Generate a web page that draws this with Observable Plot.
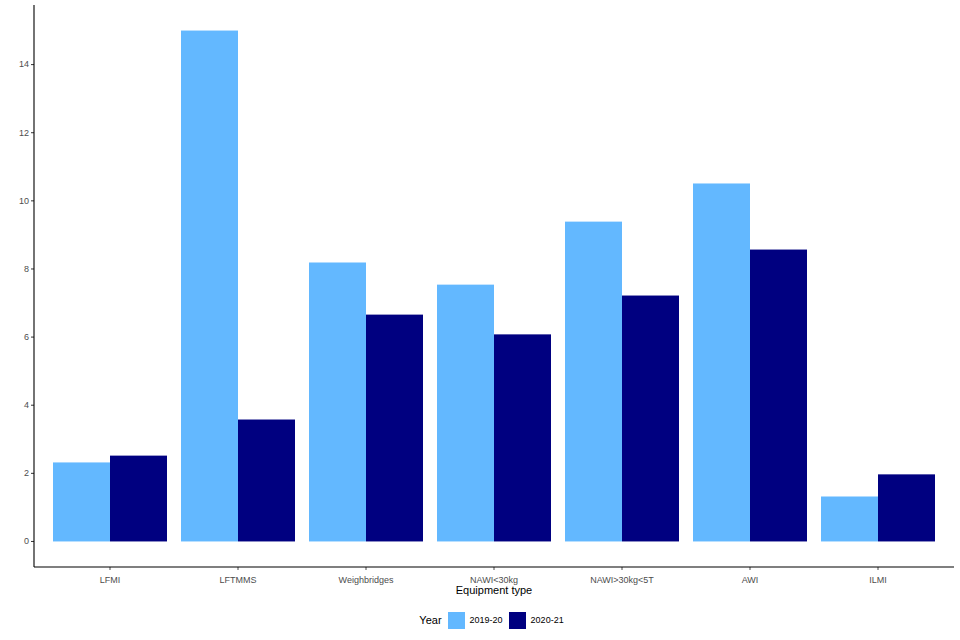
<!DOCTYPE html>
<html>
<head>
<meta charset="utf-8">
<script src="https://cdn.jsdelivr.net/npm/d3@7"></script>
<script src="https://cdn.jsdelivr.net/npm/@observablehq/plot@0.6"></script>
<style>
  html, body { margin: 0; padding: 0; background: white; }
  #chart { width: 960px; }
  .legend { height: 40px; display: flex; align-items: center; justify-content: center;
            font-family: "Liberation Sans", Arial, sans-serif; color: #000; padding-left: 29px; }
  .legend .title { font-size: 11px; margin-right: 6px; }
  .legend .sw { width: 17px; height: 17px; margin-right: 5px; }
  .legend .lab { font-size: 9px; margin-right: 6px; }
</style>
</head>
<body>
<div id="chart"></div>
<script>
const categories = ["LFMI", "LFTMMS", "Weighbridges", "NAWI<30kg", "NAWI>30kg<5T", "AWI", "ILMI"];
const years = ["2019-20", "2020-21"];
const values2019 = [2.32, 15.0, 8.19, 7.54, 9.39, 10.51, 1.32];
const values2020 = [2.52, 3.58, 6.66, 6.08, 7.22, 8.57, 1.97];
const yTicks = [0, 2, 4, 6, 8, 10, 12, 14];
const colors = ["#63B8FF", "#000080"];

const data = categories.flatMap((c, i) => [
  {category: c, year: years[0], value: values2019[i]},
  {category: c, year: years[1], value: values2020[i]}
]);

const W = 960, H = 600, mt = 5, mb = 33, ml = 34, mr = 6;
const font = "'Liberation Sans', Arial, sans-serif";

const plot = Plot.plot({
  width: W, height: H,
  marginTop: mt, marginBottom: mb, marginLeft: ml, marginRight: mr,
  style: {fontFamily: font, fontSize: "9px", color: "#4D4D4D", background: "white"},
  fx: {domain: categories, paddingInner: 0.1, paddingOuter: 0.14, axis: "bottom", label: null, tickSize: 3},
  x: {domain: years, axis: null, padding: 0},
  y: {domain: [-0.75, 15.75], axis: null},
  color: {domain: years, range: colors},
  marks: [
    Plot.barY(data, {fx: "category", x: "year", y: "value", fill: "year"})
  ]
});

// Y axis drawn at the panel's left edge using Plot's own y scale
const ys = plot.scale("y");
const yPos = ys.apply ? (v) => ys.apply(v) : d3.scaleLinear(ys.domain, ys.range);
const svg = d3.select(plot);
const yAxis = svg.append("g").attr("fill", "#4D4D4D").style("font-family", font).style("font-size", "9px");
yTicks.forEach(t => {
  const py = yPos(t);
  yAxis.append("line").attr("x1", ml - 3).attr("x2", ml).attr("y1", py).attr("y2", py)
    .attr("stroke", "#333").attr("stroke-width", 1);
  yAxis.append("text").attr("x", ml - 5).attr("y", py).attr("dy", "0.32em")
    .attr("text-anchor", "end").text(t);
});
svg.append("line").attr("x1", ml).attr("x2", ml).attr("y1", mt).attr("y2", H - mb)
  .attr("stroke", "#000").attr("stroke-width", 1.1);
svg.append("line").attr("x1", ml).attr("x2", W - mr).attr("y1", H - mb).attr("y2", H - mb)
  .attr("stroke", "#000").attr("stroke-width", 1.1);
svg.append("text").attr("x", (ml + W - mr) / 2).attr("y", 594)
  .attr("text-anchor", "middle").attr("fill", "#000")
  .style("font-size", "11px").style("font-family", font)
  .text("Equipment type");

document.getElementById("chart").appendChild(plot);

const legend = d3.select("#chart").append("div").attr("class", "legend");
legend.append("span").attr("class", "title").text("Year");
years.forEach((y, i) => {
  legend.append("span").attr("class", "sw").style("background", colors[i]);
  legend.append("span").attr("class", "lab").text(y);
});
</script>
</body>
</html>
